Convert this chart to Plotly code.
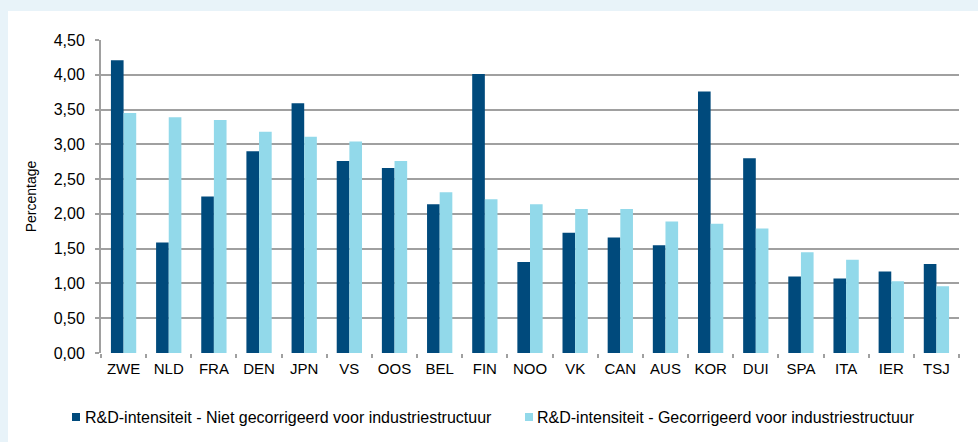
import plotly.graph_objects as go

categories = ["ZWE", "NLD", "FRA", "DEN", "JPN", "VS", "OOS", "BEL", "FIN", "NOO",
              "VK", "CAN", "AUS", "KOR", "DUI", "SPA", "ITA", "IER", "TSJ"]
niet_gecorrigeerd = [4.21, 1.59, 2.25, 2.90, 3.59, 2.76, 2.66, 2.14, 4.01, 1.31,
                     1.73, 1.66, 1.55, 3.76, 2.80, 1.10, 1.07, 1.17, 1.28]
gecorrigeerd = [3.45, 3.39, 3.35, 3.18, 3.11, 3.04, 2.76, 2.31, 2.21, 2.14,
                2.07, 2.07, 1.89, 1.86, 1.79, 1.45, 1.34, 1.03, 0.96]
y_ticks = [0, 0.5, 1.0, 1.5, 2.0, 2.5, 3.0, 3.5, 4.0, 4.5]
series_names = ["R&D-intensiteit - Niet gecorrigeerd voor industriestructuur",
                "R&D-intensiteit - Gecorrigeerd voor industriestructuur"]

DARK = "#004A7C"
LIGHT = "#92D9EA"
GRID = "#A0A0A0"
BGBLUE = "#E8F3F9"
FONT = "Liberation Sans, Arial, sans-serif"

fig = go.Figure()
fig.add_trace(go.Bar(x=categories, y=niet_gecorrigeerd, name=series_names[0],
                     marker=dict(color=DARK, line=dict(width=0))))
fig.add_trace(go.Bar(x=categories, y=gecorrigeerd, name=series_names[1],
                     marker=dict(color=LIGHT, line=dict(width=0))))

W, H = 978, 442
L, R, T, B = 101, 19, 40, 89
pw, ph = W - L - R, H - T - B

def px(x):
    return (x - L) / pw

def py(y):
    return (H - B - y) / ph

# light-blue frame strips
fig.add_shape(type="rect", xref="paper", yref="paper", x0=px(0), x1=px(W), y0=py(11), y1=py(0),
              fillcolor=BGBLUE, line=dict(width=0), layer="below")
fig.add_shape(type="rect", xref="paper", yref="paper", x0=px(0), x1=px(8), y0=py(H), y1=py(0),
              fillcolor=BGBLUE, line=dict(width=0), layer="below")

# legend (squares + text)
legend_items = [(72, 83, DARK), (525, 535, LIGHT)]
for (sx, tx, col), name in zip(legend_items, series_names):
    fig.add_shape(type="rect", xref="paper", yref="paper",
                  x0=px(sx), x1=px(sx + 8), y0=py(421), y1=py(413),
                  fillcolor=col, line=dict(width=0))
    fig.add_annotation(xref="paper", yref="paper", x=px(tx), y=py(417),
                       xanchor="left", yanchor="middle", text=name, showarrow=False,
                       font=dict(size=16, color="#000000"))

fig.update_layout(
    width=W, height=H,
    margin=dict(l=L, r=R, t=T, b=B, autoexpand=False),
    paper_bgcolor="white", plot_bgcolor="rgba(0,0,0,0)",
    barmode="group", bargap=0.44, bargroupgap=0,
    separators=",.",
    font=dict(family=FONT, size=15, color="#000000"),
    showlegend=False,
)
fig.update_xaxes(type="category", showgrid=False, showline=False, zeroline=False,
                 ticks="outside", tickson="boundaries", ticklen=4, tickcolor=GRID, tickwidth=2,
                 ticklabelstandoff=5, automargin=False,
                 tickfont=dict(size=15))
fig.update_yaxes(range=[0, 4.5], tickvals=y_ticks, tickformat=".2f",
                 showgrid=True, gridcolor=GRID, gridwidth=2,
                 showline=True, linecolor=GRID, linewidth=2, zeroline=False,
                 ticks="outside", ticklen=4, tickcolor=GRID, tickwidth=2,
                 ticklabelstandoff=7, automargin=False,
                 tickfont=dict(size=16),
                 title=dict(text="Percentage", font=dict(size=14), standoff=14))

fig.write_html("out.html", config={"displayModeBar": False},
               post_script="document.body.style.margin='0';document.body.style.overflow='hidden';")
